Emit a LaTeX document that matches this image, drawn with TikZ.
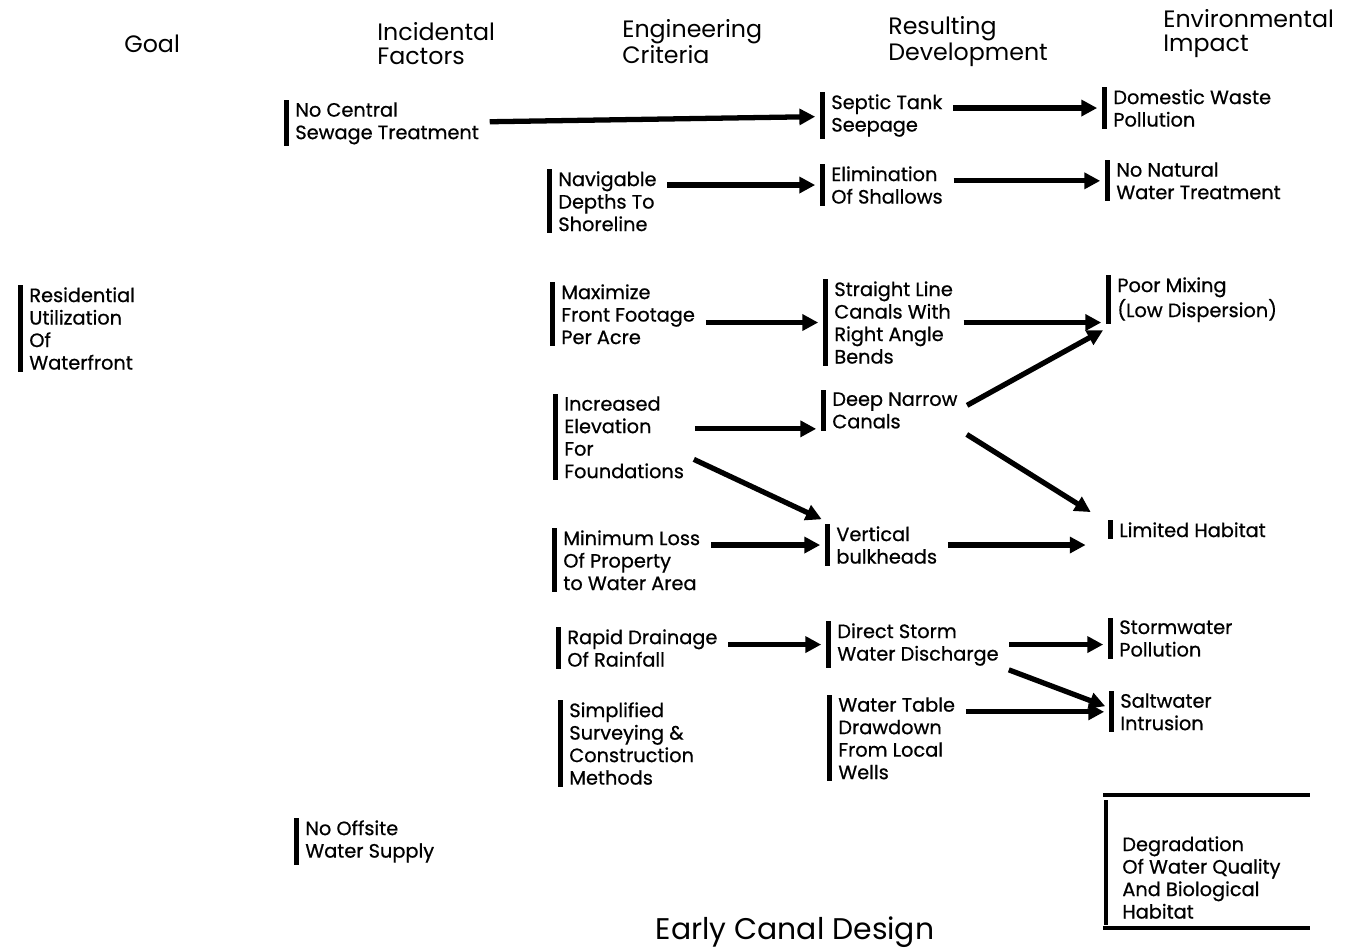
\documentclass[tikz,border=0pt]{standalone}
\usepackage{fontspec}
\setmainfont{Poppins}
\newfontfamily\itemfont{Poppins}[FakeBold=0.7]
\usetikzlibrary{arrows.meta,positioning}

\tikzset{
  item/.style={anchor=north west,align=left,inner sep=0pt,font=\itemfont\fontsize{11}{12.8}\selectfont},
  head/.style={anchor=north west,align=left,inner sep=0pt,font=\fontsize{13.5}{13.6}\selectfont},
  bar/.style={line width=2.8pt},
  arr/.style={line width=3pt,-{Triangle[length=9pt,width=9pt]},shorten <=6pt,shorten >=9pt},
}

\begin{document}
\begin{tikzpicture}[x=0.02cm,y=-0.02cm]
\useasboundingbox (0,0) rectangle (1352,949);
\node[head] (hgoal) at (124,35) {Goal};
\node[head] (hinc) at (377,22) {Incidental\\Factors};
\node[head] (heng) at (622,19) {Engineering\\Criteria};
\node[head] (hres) at (888,16) {Resulting\\Development};
\node[head] (henv) at (1163,9) {Environmental\\Impact};

\node[item] (goal) at (29,287) {Residential\\Utilization\\Of\\Waterfront};
\node[item] (sewage) at (295,102) {No Central\\Sewage Treatment};
\node[item] (offsite) at (305,820) {No Offsite\\Water Supply};

\node[item] (navig) at (558,171) {Navigable\\Depths To\\Shoreline};
\node[item] (maxim) at (561,284) {Maximize\\Front Footage\\Per Acre};
\node[item] (elev) at (564,396) {Increased\\Elevation\\For\\Foundations};
\node[item] (minloss) at (563,530) {Minimum Loss\\Of Property\\to Water Area};
\node[item] (drain) at (567,629) {Rapid Drainage\\Of Rainfall};
\node[item] (survey) at (569,702) {Simplified\\Surveying \&\\Construction\\Methods};

\node[item] (septic) at (831,94) {Septic Tank\\Seepage};
\node[item] (elim) at (831,166) {Elimination\\Of Shallows};
\node[item] (straight) at (834,281) {Straight Line\\Canals With\\Right Angle\\Bends};
\node[item] (deep) at (832,392) {Deep Narrow\\Canals};
\node[item] (vert) at (836,526) {Vertical\\bulkheads};
\node[item] (storm) at (837,623) {Direct Storm\\Water Discharge};
\node[item] (table) at (838,697) {Water Table\\Drawdown\\From Local\\Wells};

\node[item] (domestic) at (1113,89) {Domestic Waste\\Pollution};
\node[item] (natural) at (1116,162) {No Natural\\Water Treatment};
\node[item] (mixing) at (1117,277) {Poor Mixing\\(Low Dispersion)};
\node[item] (habitat) at (1119,522) {Limited Habitat};
\node[item] (stormpol) at (1119,620) {Stormwater\\Pollution};
\node[item] (salt) at (1120,693) {Saltwater\\Intrusion};
\node[item] (degrad) at (1122,836) {Degradation\\Of Water Quality\\And Biological\\Habitat};

\foreach \n in {goal,sewage,offsite,navig,maxim,elev,minloss,drain,survey,
  septic,elim,straight,deep,vert,storm,table,domestic,natural,mixing,habitat,stormpol,salt}
  \draw[bar] ([xshift=-5pt,yshift=1pt]\n.north west) -- ([xshift=-5pt,yshift=-1pt]\n.south west);

\draw[bar] (1103,795) -- (1310,795);
\draw[bar] (1103,928) -- (1310,928);
\draw[bar] (1106,800) -- (1106,925);

\draw[arr] (sewage) -- (septic);
\draw[arr] (navig.east |- elim) -- (elim);
\draw[arr] (septic.east |- domestic) -- (domestic);
\draw[arr] (elim.east |- natural) -- (natural);
\draw[arr] (maxim.east |- straight) -- (straight);
\draw[arr] (straight.east) -- (straight.east -| mixing.west);
\draw[arr] (elev.east |- deep.south west) -- (deep.south west);
\draw[arr] ([yshift=-10pt]elev.east) -- (vert.north west);
\draw[arr] (deep.east) -- (mixing.south west);
\draw[arr,shorten >=19pt] (deep.south east) -- (habitat.west);
\draw[arr] (minloss.east |- vert) -- (vert);
\draw[arr,shorten >=19pt] (vert.east) -- (vert.east -| habitat.west);
\draw[arr] (drain.east |- storm) -- (storm);
\draw[arr] (storm.east) -- (storm.east -| stormpol.west);
\draw[arr] (storm.south east) -- (salt.west);
\draw[arr] (table.east |- salt) -- (salt);

\node[font=\fontsize{17}{20}\selectfont] (title) at (795,932) {Early Canal Design};
\end{tikzpicture}
\end{document}
